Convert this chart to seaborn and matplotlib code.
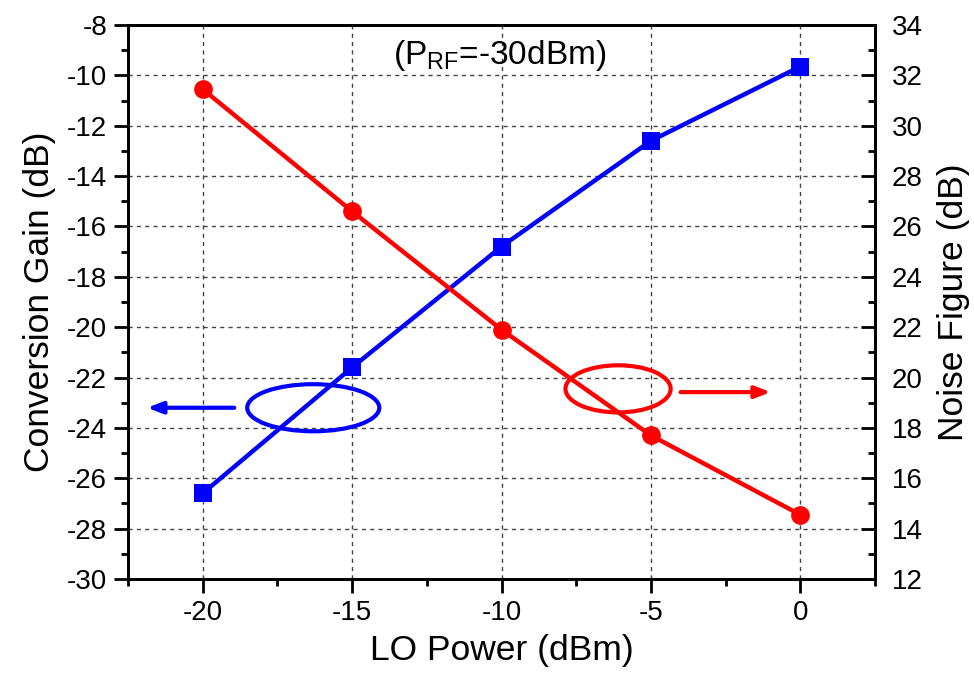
import numpy as np
import pandas as pd
import matplotlib
matplotlib.use("Agg")
import matplotlib.pyplot as plt
from matplotlib.patches import Ellipse
from matplotlib.ticker import MultipleLocator
import seaborn as sns

lo_power = [-20, -15, -10, -5, 0]
conversion_gain = [-26.6, -21.6, -16.8, -12.6, -9.65]
noise_figure = [31.45, 26.6, 21.9, 17.7, 14.55]

sns.set_style("ticks")
plt.rcParams["font.family"] = ["Liberation Sans", "DejaVu Sans"]
plt.rcParams["mathtext.fontset"] = "custom"
plt.rcParams["mathtext.rm"] = "Liberation Sans"
plt.rcParams["axes.unicode_minus"] = False
for k in ("text.color", "axes.labelcolor", "xtick.color", "ytick.color",
          "xtick.labelcolor", "ytick.labelcolor"):
    plt.rcParams[k] = "black"

df = pd.DataFrame({"lo": lo_power, "cg": conversion_gain, "nf": noise_figure})

fig = plt.figure(figsize=(9.74, 6.77), dpi=100)
ax = fig.add_axes([0.1314, 0.1448, 0.767, 0.8183])
ax2 = ax.twinx()

sns.lineplot(data=df, x="lo", y="cg", ax=ax, color="#0000ff", linewidth=3.2,
             marker="s", markersize=12.5, markeredgewidth=0, zorder=5)
sns.lineplot(data=df, x="lo", y="nf", ax=ax2, color="#ff0000", linewidth=3.2,
             marker="o", markersize=13.5, markeredgewidth=0, zorder=5)

ax.set_xlim(-22.5, 2.5)
ax.set_ylim(-30, -8)
ax2.set_ylim(12, 34)

ax.xaxis.set_major_locator(MultipleLocator(5))
ax.xaxis.set_minor_locator(MultipleLocator(2.5))
ax.yaxis.set_major_locator(MultipleLocator(2))
ax.yaxis.set_minor_locator(MultipleLocator(1))
ax2.yaxis.set_major_locator(MultipleLocator(2))
ax2.yaxis.set_minor_locator(MultipleLocator(1))

ax.grid(True, which="major", axis="both", color="#444444", linestyle=(0, (3, 3)), lw=1.0)
ax.set_axisbelow(True)

for a in (ax, ax2):
    for s in a.spines.values():
        s.set_linewidth(2.0)
        s.set_color("black")
        s.set_visible(True)

ax.tick_params(axis="both", which="major", direction="out", length=10, width=2,
               labelsize=20, pad=5, colors="black")
ax.tick_params(axis="both", which="minor", direction="out", length=5, width=2, colors="black")
ax.tick_params(axis="y", right=False)
ax2.tick_params(axis="y", which="major", direction="in", length=10, width=2, labelsize=20, pad=12, colors="black")
ax2.tick_params(axis="y", which="minor", direction="in", length=5, width=2, colors="black")

ax.set_xlabel("LO Power (dBm)", fontsize=25.5, labelpad=6, color="black")
ax.set_ylabel("Conversion Gain (dB)", fontsize=25.5, labelpad=8, color="black")
ax2.set_ylabel("Noise Figure (dB)", fontsize=25.5, labelpad=10, color="black")

ax.text(-10.05, -9.2, r"(P$_{\mathregular{RF}}$=-30dBm)", fontsize=24,
        ha="center", va="center", color="black")

# annotations: ellipses and arrows
ax.add_patch(Ellipse((-16.3, -23.2), 4.42, 1.87, fill=False, edgecolor="#0000ff", lw=3.0, zorder=6))
ax.annotate("", xy=(-21.95, -23.2), xytext=(-18.85, -23.2),
            arrowprops=dict(arrowstyle="-|>,head_length=0.9,head_width=0.35", color="#0000ff", lw=3.0))
ax.add_patch(Ellipse((-6.1, -22.45), 3.52, 1.87, fill=False, edgecolor="#ff0000", lw=3.0, zorder=6))
ax.annotate("", xy=(-0.9, -22.58), xytext=(-4.1, -22.58),
            arrowprops=dict(arrowstyle="-|>,head_length=0.9,head_width=0.35", color="#ff0000", lw=3.0))

fig.savefig("out.png", dpi=100)
